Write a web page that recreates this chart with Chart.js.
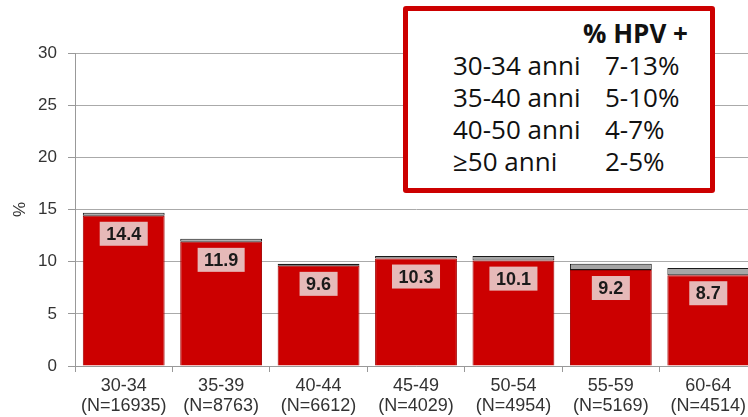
<!DOCTYPE html>
<html><head><meta charset="utf-8">
<script src="https://cdn.jsdelivr.net/npm/chart.js@4"></script>
<style>
html,body{margin:0;padding:0;background:#fff;overflow:hidden;width:748px;height:417px;}
#wrap{position:relative;width:748px;height:417px;overflow:hidden;}
#c{position:absolute;left:0;top:0;}
#box{position:absolute;left:403px;top:6px;width:302px;height:177px;border:5px solid #cc0000;border-radius:3px;background:#fff;font-family:'Open Sans',sans-serif;font-size:26px;color:#111;}
.t{position:absolute;white-space:nowrap;line-height:32px;}
.h{font-weight:bold;}
</style></head>
<body>
<div id="wrap">
<canvas id="c" width="760" height="417" style="width:760px;height:417px"></canvas>
<div id="box"></div>
</div>
<script>
// ---- data ----
const categories = ['30-34','35-39','40-44','45-49','50-54','55-59','60-64'];
const sampleSizes = ['(N=16935)','(N=8763)','(N=6612)','(N=4029)','(N=4954)','(N=5169)','(N=4514)'];
const hpvPositive = [14.4, 11.9, 9.6, 10.3, 10.1, 9.2, 8.7];
const upperSegment = [0.3, 0.3, 0.2, 0.25, 0.45, 0.6, 0.7];
const boxTitle = '% HPV +';
const boxAges = ['30-34 anni','35-40 anni','40-50 anni','\u226550 anni'];
const boxRanges = ['7-13%','5-10%','4-7%','2-5%'];

// ---- overlay box ----
const box = document.getElementById('box');
function addText(txt, left, top, cls){
  const s = document.createElement('span');
  s.className = 't' + (cls ? ' ' + cls : '');
  s.textContent = txt; s.style.left = left + 'px'; s.style.top = top + 'px';
  box.appendChild(s);
}
addText(boxTitle, 175, 6, 'h');
boxAges.forEach((a, i) => {
  addText(a, 45, 38 + i * 32);
  addText(boxRanges[i], 197, 38 + i * 32);
});

// ---- bar labels plugin ----
const labelPlugin = {
  id: 'barLabels',
  afterDatasetsDraw(chart) {
    const meta = chart.getDatasetMeta(0);
    const ctx = chart.ctx;
    ctx.save();
    ctx.font = 'bold 18px "Liberation Sans"';
    meta.data.forEach((bar, i) => {
      const txt = chart.data.datasets[0].data[i].toFixed(1);
      const w = ctx.measureText(txt).width + 13, h = 24;
      const top = bar.y + 6;
      ctx.fillStyle = '#e6b9b8';
      ctx.fillRect(bar.x - w / 2, top, w, h);
      ctx.fillStyle = '#1a1a1a';
      ctx.textAlign = 'center';
      ctx.textBaseline = 'middle';
      ctx.fillText(txt, bar.x, top + h / 2 + 1);
    });
    ctx.restore();
  }
};

new Chart(document.getElementById('c'), {
  type: 'bar',
  data: {
    labels: categories.map((c, i) => [c, sampleSizes[i]]),
    datasets: [
      { label: 'HPV+', data: hpvPositive, backgroundColor: '#cc0000', borderColor: '#a30000', borderWidth: 1, borderSkipped: 'start' },
      { label: 'upper', data: upperSegment, backgroundColor: '#a6a6a6', borderColor: '#1a1a1a', borderWidth: 1, borderSkipped: false }
    ]
  },
  options: {
    responsive: false, animation: false, devicePixelRatio: 1,
    layout: { padding: { left: 0, right: 3, top: 53, bottom: 0 } },
    plugins: { legend: { display: false }, tooltip: { enabled: false } },
    datasets: { bar: { categoryPercentage: 1, barPercentage: 0.84 } },
    scales: {
      x: {
        stacked: true,
        grid: { display: true, drawOnChartArea: false, offset: true, tickLength: 6, color: '#999', lineWidth: 1 },
        border: { color: '#999' },
        ticks: { font: { family: 'Liberation Sans', size: 18, lineHeight: '20px' }, color: '#333', padding: 4, maxRotation: 0, autoSkip: false },
        afterFit(s) { s.height = 51; }
      },
      y: {
        stacked: true, min: 0, max: 30,
        ticks: { stepSize: 5, font: { family: 'Liberation Sans', size: 17 }, color: '#333', padding: 11 },
        grid: { color: '#aaaaaa', tickLength: 7, tickColor: '#999' },
        border: { color: '#999' },
        title: { display: true, text: '%', font: { family: 'Liberation Sans', size: 17 }, color: '#333', padding: { top: 10, bottom: 0 } },
        afterFit(s) { s.width = 75; }
      }
    }
  },
  plugins: [labelPlugin]
});
</script>
</body></html>
